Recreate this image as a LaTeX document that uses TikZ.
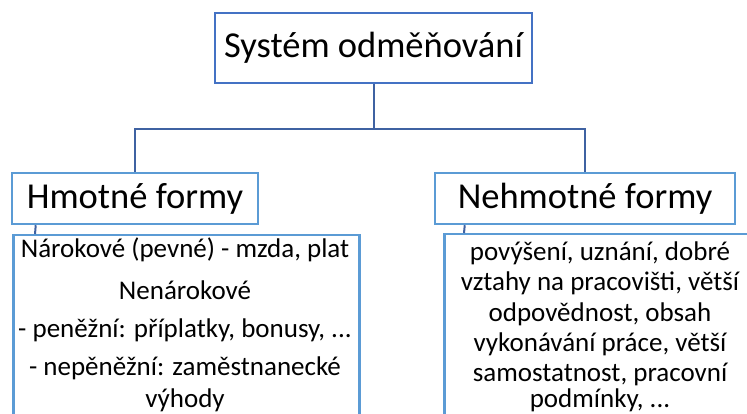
\documentclass[tikz,border=0pt]{standalone}
\usepackage{fontspec}
\setmainfont{Carlito}
\usetikzlibrary{calc}
\definecolor{boxblue}{HTML}{5B9BD5}
\definecolor{topblue}{HTML}{4472C4}
\definecolor{linkblue}{HTML}{3F62A2}
\tikzset{
  formbox/.style={draw=boxblue,line width=2.5pt,inner sep=0pt,minimum height=51pt,
    font=\fontsize{36.5}{44}\selectfont},
  listbox/.style={draw=boxblue,line width=2.5pt,anchor=north west,minimum height=300pt},
  link/.style={draw=linkblue,line width=2pt},
  item/.style={anchor=base,inner sep=0pt,font=\fontsize{27}{32}\selectfont}
}

\begin{document}
\begin{tikzpicture}[x=1pt,y=-1pt]
  \clip (0,0) rectangle (747,414);
  \fill[white] (0,0) rectangle (747,414);

  \node[draw=topblue,line width=2pt,minimum width=317pt,minimum height=70pt,
        font=\fontsize{36.5}{44}\selectfont] (system) at (373.5,48) {Systém odměňování};

  \node[formbox,minimum width=246pt] (hmotne) at (135,198.5) {Hmotné formy};
  \node[formbox,minimum width=300pt] (nehmotne) at (585,198.5) {Nehmotné formy};

  \node[listbox,minimum width=346pt] (hmlist) at (12,234) {};
  \node[listbox,minimum width=314pt] (nehmlist) at (443,233) {};

  % hierarchy
  \draw[link] (system.south) -- ++(0,45) coordinate (fork);
  \draw[link] (hmotne.north) |- (fork) -| (nehmotne.north);
  \draw[link] ($(hmotne.south west)+(25,0)$) -- ($(hmlist.north west)+(23,0)$);
  \draw[link] ($(nehmotne.south west)+(31,0)$) -- ($(nehmlist.north west)+(21,0)$);

  % hmotne formy
  \node[item] (narok) at (185,258) {Nárokové (pevné) - mzda, plat};
  \node[item] (nenarok) at (185,299) {Nenárokové};
  \node[item] (penez) at (185,337) {- peněžní: příplatky, bonusy, ...};
  \node[item] (nepenez) at (185,375) {- nepěněžní: zaměstnanecké};
  \node[item] (vyhody) at (185,407) {výhody};

  % nehmotne formy
  \node[item] at (600,260) {povýšení, uznání, dobré};
  \node[item] at (600,290) {vztahy na pracovišti, větší};
  \node[item] at (600,321) {odpovědnost, obsah};
  \node[item] at (600,351) {vykonávání práce, větší};
  \node[item] at (600,381) {samostatnost, pracovní};
  \node[item] at (600,407) {podmínky, ...};
\end{tikzpicture}
\end{document}
